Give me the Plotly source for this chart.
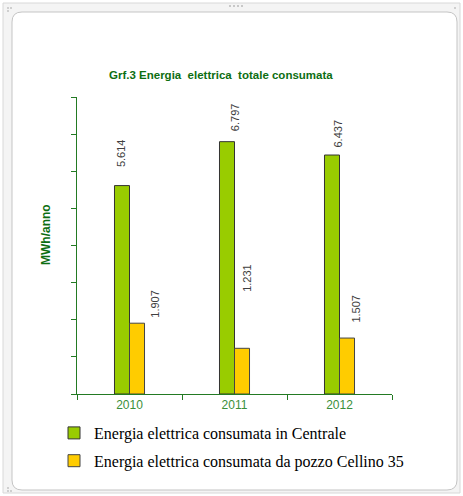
import plotly.graph_objects as go

# ---- data ----
years = ["2010", "2011", "2012"]
centrale = [5614, 6797, 6437]
pozzo = [1907, 1231, 1507]
series_names = ["Energia elettrica consumata in Centrale",
                "Energia elettrica consumata da pozzo Cellino 35"]
title_text = "Grf.3 Energia  elettrica  totale consumata"
y_title = "MWh/anno"

# label tweaks (pixel shifts, styling only)
cent_shift_y = [16, 8, 5]
cent_shift_x = [-9, 0, -1]
pozzo_shift_y = [3, 54, 13]
pozzo_shift_x = [26, 13, 17]

W, H = 463, 496
ML, MR, MT, MB = 77, 71, 97, 102
PW, PH = W - ML - MR, H - MT - MB


def px(x):
    return (x - ML) / PW


def py(y):
    return (H - MB - y) / PH


def fmt(v):
    return f"{v:,}".replace(",", ".")


GREEN = "#99CC00"
YELLOW = "#FFCC00"
DKGREEN = "#0d6e12"
AXGREEN = "#237a23"

fig = go.Figure()
fig.add_trace(go.Bar(x=years, y=centrale, name=series_names[0],
                     marker=dict(color=GREEN, line=dict(color="#333333", width=1)),
                     legendgroup="a"))
fig.add_trace(go.Bar(x=years, y=pozzo, name=series_names[1],
                     marker=dict(color=YELLOW, line=dict(color="#444444", width=1)),
                     legendgroup="b"))

annotations = []
for i, yr in enumerate(years):
    annotations.append(dict(x=i, y=centrale[i], xref="x", yref="y", text=fmt(centrale[i]),
                            showarrow=False, textangle=-90, yanchor="bottom", xanchor="center",
                            xshift=cent_shift_x[i], yshift=cent_shift_y[i],
                            font=dict(family="Liberation Sans, Arial", size=11, color="#404040")))
    annotations.append(dict(x=i, y=pozzo[i], xref="x", yref="y", text=fmt(pozzo[i]),
                            showarrow=False, textangle=-90, yanchor="bottom", xanchor="center",
                            xshift=pozzo_shift_x[i], yshift=pozzo_shift_y[i],
                            font=dict(family="Liberation Sans, Arial", size=11, color="#404040")))

annotations.append(dict(x=px(37), y=py(235), xref="paper", yref="paper", text="<b>" + y_title + "</b>",
                        showarrow=False, textangle=-90,
                        font=dict(family="Liberation Sans, Arial", size=12, color=DKGREEN)))
annotations.append(dict(x=px(221), y=py(75), xref="paper", yref="paper", text="<b>" + title_text + "</b>",
                        showarrow=False, xanchor="center", yanchor="middle",
                        font=dict(family="Liberation Sans, Arial", size=11.5, color=DKGREEN)))

shapes = [
    dict(type="rect", xref="paper", yref="paper", x0=px(3), x1=px(460), y0=py(3), y1=py(493),
         fillcolor="#f4f4f4", line=dict(color="#d8d8d8", width=1), layer="below"),
]
# rounded inner rect
x0, x1, y0, y1, r = 12, 457, 12, 490, 10
path = (f"M {px(x0 + r):.5f},{py(y0):.5f} L {px(x1 - r):.5f},{py(y0):.5f} "
        f"Q {px(x1):.5f},{py(y0):.5f} {px(x1):.5f},{py(y0 + r):.5f} L {px(x1):.5f},{py(y1 - r):.5f} "
        f"Q {px(x1):.5f},{py(y1):.5f} {px(x1 - r):.5f},{py(y1):.5f} L {px(x0 + r):.5f},{py(y1):.5f} "
        f"Q {px(x0):.5f},{py(y1):.5f} {px(x0):.5f},{py(y1 - r):.5f} L {px(x0):.5f},{py(y0 + r):.5f} "
        f"Q {px(x0):.5f},{py(y0):.5f} {px(x0 + r):.5f},{py(y0):.5f} Z")
shapes.append(dict(type="path", xref="paper", yref="paper", path=path,
                   fillcolor="white", line=dict(color="#c4c4c4", width=1), layer="below"))
# handle dots
for dx in [229, 233, 237, 241]:
    shapes.append(dict(type="rect", xref="paper", yref="paper", x0=px(dx), x1=px(dx + 2),
                       y0=py(5), y1=py(7), fillcolor="#c8c8c8", line=dict(width=0), layer="below"))
for (cx, cy) in [(7, 7), (10, 7), (7, 10), (454, 7), (7, 487), (7, 490), (10, 490)]:
    shapes.append(dict(type="rect", xref="paper", yref="paper", x0=px(cx), x1=px(cx + 2),
                       y0=py(cy), y1=py(cy + 2), fillcolor="#cfcfcf", line=dict(width=0), layer="below"))

fig.update_layout(
    width=W, height=H,
    margin=dict(l=ML, r=MR, t=MT, b=MB, pad=0, autoexpand=False),
    paper_bgcolor="white", plot_bgcolor="rgba(0,0,0,0)",
    barmode="group", bargap=0.714, bargroupgap=0,
    showlegend=True,
    legend=dict(orientation="v", x=px(54), xanchor="left",
                y=py(416), yanchor="top",
                traceorder="grouped", tracegroupgap=4,
                font=dict(family="Liberation Serif, Times New Roman", size=16, color="black"),
                bgcolor="rgba(0,0,0,0)", itemwidth=30),
    annotations=annotations,
    shapes=shapes,
)
fig.update_xaxes(type="category", range=[-0.5, len(years) - 0.5], autorange=False,
                 showline=True, linecolor=AXGREEN, linewidth=1,
                 ticks="outside", tickson="boundaries", ticklen=5, tickcolor=AXGREEN,
                 showgrid=False, zeroline=False, automargin=False,
                 tickfont=dict(family="Liberation Sans, Arial", size=12, color="#3a8f3a"))
fig.update_yaxes(range=[0, 8000], autorange=False, dtick=1000, showline=True, linecolor=AXGREEN, linewidth=1,
                 ticks="outside", ticklen=5, tickcolor=AXGREEN, showticklabels=False,
                 showgrid=False, zeroline=False, automargin=False)

fig.write_html("out.html", config={"displayModeBar": False},
               post_script="document.body.style.margin='0';")
